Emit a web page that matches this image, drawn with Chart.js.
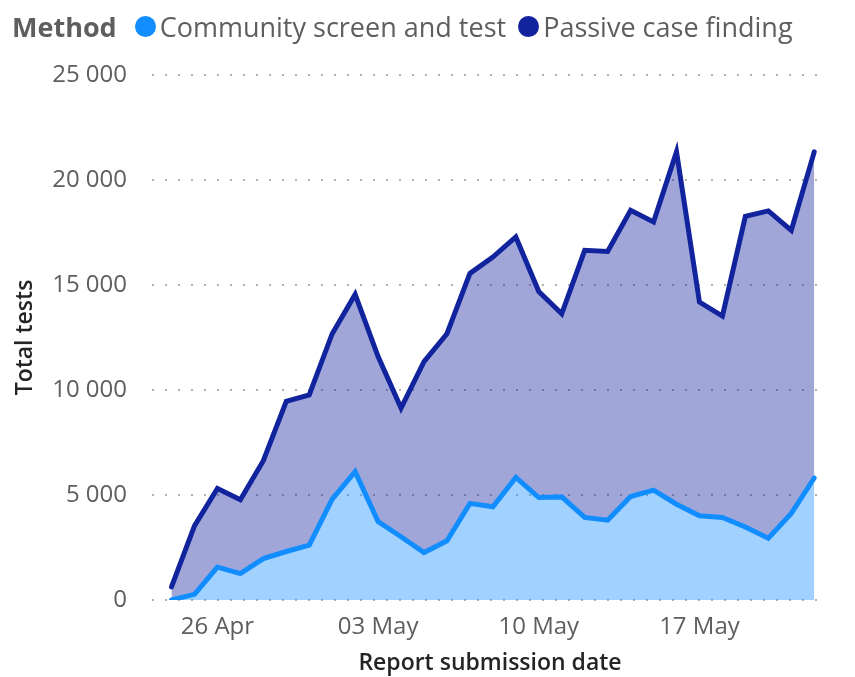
<!DOCTYPE html>
<html>
<head>
<meta charset="utf-8">
<title>Total tests by method</title>
<script src="https://cdn.jsdelivr.net/npm/chart.js@4"></script>
<style>
  html, body { margin: 0; padding: 0; background: #fff; }
  #wrap { position: relative; width: 855px; height: 677px; }
  #legend {
    position: absolute; top: 8px; left: 12px;
    font-family: "Open Sans", sans-serif; font-size: 27px; color: #605E5C;
    display: flex; align-items: center; white-space: nowrap;
  }
  #legend .title { font-weight: 700; margin-right: 18px; }
  #legend .item { display: flex; align-items: center; margin-right: 12px; }
  #legend .dot { width: 21px; height: 21px; border-radius: 50%; margin-right: 4px; }
</style>
</head>
<body>
<div id="wrap">
  <canvas id="chart" width="855" height="677"></canvas>
  <div id="legend"><span class="title">Method</span></div>
</div>
<script>
// report dates, one per day
const dates = [
  '24 Apr', '25 Apr', '26 Apr', '27 Apr', '28 Apr', '29 Apr', '30 Apr',
  '01 May', '02 May', '03 May', '04 May', '05 May', '06 May', '07 May',
  '08 May', '09 May', '10 May', '11 May', '12 May', '13 May', '14 May',
  '15 May', '16 May', '17 May', '18 May', '19 May', '20 May', '21 May', '22 May',
];
const tickLabels = ['26 Apr', '03 May', '10 May', '17 May'];
const yTicks = [0, 5000, 10000, 15000, 20000, 25000];

// stacked: community first, passive on top of it
const communityTests = [
  0, 270, 1570, 1260, 1970, 2310, 2610, 4800, 6110, 3740,
  3010, 2260, 2820, 4600, 4440, 5840, 4880, 4910, 3930, 3800,
  4930, 5230, 4560, 4010, 3930, 3480, 2940, 4120, 5810,
];
const passiveTests = [
  620, 3260, 3740, 3510, 4660, 7150, 7160, 7880, 8440, 7850,
  6130, 9090, 9860, 10950, 11890, 11450, 9810, 8720, 12720, 12800,
  13630, 12770, 16780, 10180, 9590, 14790, 15590, 13480, 15530,
];

const series = [
  { label: 'Community screen and test', values: communityTests, color: '#118DFF', fillColor: 'rgba(17, 141, 255, 0.4)', fill: 'origin' },
  { label: 'Passive case finding', values: passiveTests, color: '#12239E', fillColor: 'rgba(18, 35, 158, 0.4)', fill: '-1' },
];

const tickFont = { family: 'Open Sans', size: 24 };
const titleFont = { family: 'Open Sans', size: 23, weight: '600' };
const textGrey = '#605E5C';

// html legend from the series
const legendEl = document.getElementById('legend');
series.forEach(s => {
  const item = document.createElement('span');
  item.className = 'item';
  item.innerHTML = '<span class="dot" style="background:' + s.color + '"></span>' + s.label;
  legendEl.appendChild(item);
});

const ctx = document.getElementById('chart').getContext('2d');
new Chart(ctx, {
  type: 'line',
  data: {
    datasets: series.map(s => ({
      label: s.label,
      data: s.values.map((v, i) => ({ x: i, y: v })),
      borderColor: s.color,
      backgroundColor: s.fillColor,
      borderWidth: 5,
      borderCapStyle: 'round',
      pointRadius: 0,
      tension: 0,
      fill: s.fill,
    })),
  },
  options: {
    responsive: false,
    animation: false,
    layout: { padding: { top: 75, left: 10, right: 27, bottom: 0 } },
    plugins: {
      legend: { display: false },
      tooltip: { enabled: false },
    },
    scales: {
      x: {
        type: 'linear',
        min: -0.85,
        max: 28.6,
        afterBuildTicks: axis => {
          axis.ticks = tickLabels.map(t => ({ value: dates.indexOf(t) }));
        },
        afterFit: axis => { axis.height = 77; },
        ticks: {
          autoSkip: false,
          maxRotation: 0,
          padding: 5,
          color: textGrey,
          font: tickFont,
          callback: v => dates[v],
        },
        grid: { display: false },
        border: { display: false },
        title: {
          display: true,
          text: 'Report submission date',
          color: '#252423',
          font: titleFont,
          padding: { top: 5, bottom: 0 },
        },
      },
      y: {
        stacked: true,
        min: 0,
        max: 25000,
        afterBuildTicks: axis => {
          axis.ticks = yTicks.map(v => ({ value: v }));
        },
        afterFit: axis => { axis.width = 142; },
        ticks: {
          padding: 25,
          color: textGrey,
          font: tickFont,
          callback: v => v.toLocaleString('en-US').replace(/,/g, ' '),
        },
        grid: { color: '#B3B0AD', lineWidth: 2, drawTicks: false },
        border: { display: false, dash: [2, 11] },
        title: {
          display: true,
          text: 'Total tests',
          color: '#252423',
          font: titleFont,
          padding: { top: 2, bottom: 8 },
        },
      },
    },
  },
});
</script>
</body>
</html>
